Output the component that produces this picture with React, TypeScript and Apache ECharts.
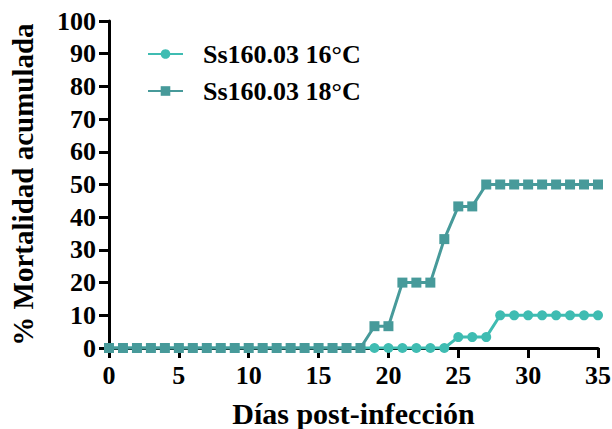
import React, { useEffect, useRef } from "react";
import * as echarts from "echarts";

const days = Array.from({ length: 36 }, (_, i) => i);
const s16Name = "Ss160.03 16°C";
const s18Name = "Ss160.03 18°C";
const s16Values = [0,0,0,0,0,0,0,0,0,0,0,0,0,0,0,0,0,0,0,0,0,0,0,0,0,3.33,3.33,3.33,10,10,10,10,10,10,10,10];
const s18Values = [0,0,0,0,0,0,0,0,0,0,0,0,0,0,0,0,0,0,0,6.67,6.67,20,20,20,33.3,43.3,43.3,50,50,50,50,50,50,50,50,50];

export default function App() {
  const ref = useRef<HTMLDivElement>(null);
  useEffect(() => {
    const chart = echarts.init(ref.current!, null, { renderer: "svg" });
    const font = "Liberation Serif, Times New Roman, serif";
    const axisCommon = {
      axisLine: { show: true, lineStyle: { color: "#000", width: 3 } },
      axisTick: { show: true, inside: false, length: 10, lineStyle: { color: "#000", width: 3 } },
      splitLine: { show: false },
      axisLabel: { color: "#000", fontFamily: font, fontWeight: "bold", fontSize: 26 },
    };
    chart.setOption({
      animation: false,
      backgroundColor: "#fff",
      textStyle: { fontFamily: font },
      grid: { left: 109, right: 14, top: 21, bottom: 81, containLabel: false, outerBoundsMode: "none" },
      legend: {
        orient: "vertical",
        left: 142,
        top: 36,
        itemWidth: 35,
        itemHeight: 12,
        itemGap: 11,
        textStyle: { color: "#000", fontFamily: font, fontWeight: "bold", fontSize: 26, padding: [0, 0, 0, 15] },
        data: [s16Name, s18Name],
      },
      xAxis: {
        type: "value",
        min: 0,
        max: 35,
        interval: 5,
        name: "Días post-infección",
        nameLocation: "middle",
        nameGap: 50,
        nameTextStyle: { color: "#000", fontFamily: font, fontWeight: "bold", fontSize: 30 },
        ...axisCommon,
        axisLabel: { ...axisCommon.axisLabel, margin: 14 },
      },
      yAxis: {
        type: "value",
        min: 0,
        max: 100,
        interval: 10,
        name: "% Mortalidad acumulada",
        nameLocation: "middle",
        nameGap: 72,
        nameTextStyle: { color: "#000", fontFamily: font, fontWeight: "bold", fontSize: 29 },
        ...axisCommon,
        axisLabel: { ...axisCommon.axisLabel, margin: 13 },
      },
      series: [
        {
          name: s16Name,
          type: "line",
          data: days.map((d, i) => [d, s16Values[i]]),
          symbol: "circle",
          symbolSize: 10,
          showAllSymbol: true,
          color: "#3fbcb2",
          lineStyle: { width: 3, color: "#3fbcb2" },
          itemStyle: { color: "#3fbcb2" },
        },
        {
          name: s18Name,
          type: "line",
          data: days.map((d, i) => [d, s18Values[i]]),
          symbol: "rect",
          symbolSize: 10,
          showAllSymbol: true,
          color: "#479a9a",
          lineStyle: { width: 3, color: "#479a9a" },
          itemStyle: { color: "#479a9a" },
        },
      ],
    });
    return () => chart.dispose();
  }, []);
  return <div ref={ref} style={{ width: 612, height: 429, position: "absolute", left: 0, top: 0 }} />;
}
